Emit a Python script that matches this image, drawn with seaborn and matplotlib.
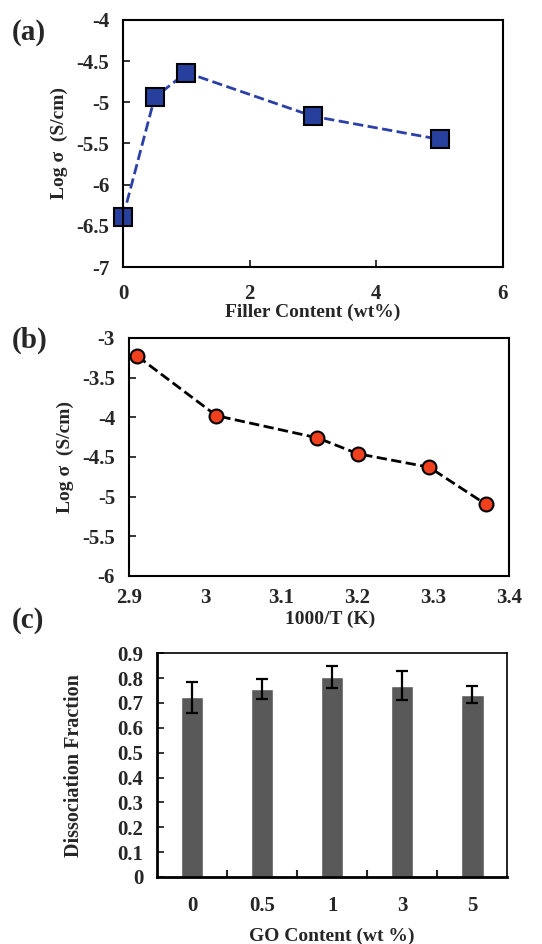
import numpy as np
import pandas as pd
import matplotlib
matplotlib.use('Agg')
import matplotlib.pyplot as plt
import seaborn as sns

# data
filler_wt = [0, 0.5, 1, 3, 5]
log_sigma_a = [-6.39, -4.94, -4.64, -5.17, -5.45]

inv_T = [2.911, 3.015, 3.148, 3.201, 3.295, 3.370]
log_sigma_b = [-3.23, -3.98, -4.26, -4.46, -4.63, -5.10]

go_labels = ['0', '0.5', '1', '3', '5']
dissoc_frac = [0.722, 0.755, 0.804, 0.770, 0.734]
dissoc_err = [0.062, 0.040, 0.045, 0.057, 0.033]

sns.set_style('ticks')
plt.rcParams['font.family'] = ['Liberation Serif', 'DejaVu Serif']
plt.rcParams['font.weight'] = 'bold'
plt.rcParams['axes.labelweight'] = 'bold'

fig = plt.figure(figsize=(5.42, 9.44), dpi=100)
ax_a = fig.add_axes([0.227, 0.717, 0.701, 0.262])
ax_b = fig.add_axes([0.238, 0.390, 0.701, 0.252])
ax_c = fig.add_axes([0.290, 0.071, 0.646, 0.237])

tick_fs = 15
label_fs = 14

def style_box(ax):
    for s in ax.spines.values():
        s.set_visible(True)
        s.set_linewidth(1.5)
        s.set_color('black')
    ax.tick_params(direction='in', width=1.3, length=5, labelsize=tick_fs)
    ax.tick_params(axis='y', pad=10)
    for t in ax.get_xticklabels() + ax.get_yticklabels():
        t.set_fontweight('bold')

# (a) conductivity vs filler content
df_a = pd.DataFrame({'x': filler_wt, 'y': log_sigma_a})
sns.lineplot(data=df_a, x='x', y='y', ax=ax_a, color='#2b3fa8', linestyle='--',
             linewidth=2, marker='s', markersize=13, markerfacecolor='#27409e',
             markeredgecolor='black', markeredgewidth=1.5, clip_on=False)
ax_a.set_xlim(0, 6)
ax_a.set_ylim(-7, -4)
ax_a.set_xticks([0, 2, 4, 6])
ax_a.set_yticks(np.arange(-7, -3.9, 0.5))
ax_a.set_yticklabels(['-7', '-6.5', '-6', '-5.5', '-5', '-4.5', '-4'])
ax_a.set_xlabel('Filler Content (wt%)', fontsize=label_fs, labelpad=0)
ax_a.set_ylabel('Log σ  (S/cm)', fontsize=label_fs, labelpad=6)
style_box(ax_a)
ax_a.tick_params(axis='x', pad=12)

# (b) Arrhenius plot
df_b = pd.DataFrame({'x': inv_T, 'y': log_sigma_b})
sns.lineplot(data=df_b, x='x', y='y', ax=ax_b, color='black', linestyle='--',
             linewidth=2, marker='o', markersize=10, markerfacecolor='#f0401e',
             markeredgecolor='black', markeredgewidth=1.5, clip_on=False)
ax_b.set_xlim(2.9, 3.4)
ax_b.set_ylim(-6, -3)
ax_b.set_xticks([2.9, 3.0, 3.1, 3.2, 3.3, 3.4])
ax_b.set_xticklabels(['2.9', '3', '3.1', '3.2', '3.3', '3.4'])
ax_b.set_yticks(np.arange(-6, -2.9, 0.5))
ax_b.set_yticklabels(['-6', '-5.5', '-5', '-4.5', '-4', '-3.5', '-3'])
ax_b.set_xlabel('1000/T (K)', fontsize=label_fs)
ax_b.xaxis.set_label_coords(0.53, -0.145)
ax_b.set_ylabel('Log σ  (S/cm)', fontsize=label_fs, labelpad=6)
style_box(ax_b)
ax_b.tick_params(axis='x', length=0, pad=9)

# (c) dissociation fraction bars
df_c = pd.DataFrame({'go': go_labels, 'frac': dissoc_frac})
sns.barplot(data=df_c, x='go', y='frac', ax=ax_c, color='#595959',
            saturation=1, width=0.32, errorbar=None)
ax_c.errorbar(np.arange(len(go_labels)), dissoc_frac, yerr=dissoc_err,
              fmt='none', ecolor='black', elinewidth=1.6, capsize=4, capthick=1.6)
ax_c.set_xlim(-0.5, 4.5)
ax_c.set_ylim(0, 0.9)
ax_c.set_yticks(np.arange(0, 0.91, 0.1))
ax_c.set_yticklabels(['0', '0.1', '0.2', '0.3', '0.4', '0.5', '0.6', '0.7', '0.8', '0.9'])
ax_c.set_xlabel('GO Content (wt %)', fontsize=label_fs, labelpad=8)
ax_c.set_ylabel('Dissociation Fraction', fontsize=14.5, labelpad=24)
style_box(ax_c)
ax_c.set_xticks(np.arange(0.5, 4.5, 1), minor=True)
ax_c.tick_params(axis='x', which='major', length=0, pad=14)
ax_c.tick_params(axis='x', which='minor', direction='in', length=5, width=1.5)
ax_c.tick_params(axis='y', pad=10)
ax_c.spines['top'].set_linewidth(1.2)
ax_c.spines['right'].set_linewidth(1.2)
ax_c.spines['bottom'].set_linewidth(2)
ax_c.spines['left'].set_linewidth(2)

# panel letters
for letter, ypos in [('(a)', 0.966), ('(b)', 0.639), ('(c)', 0.343)]:
    fig.text(0.022, ypos, letter, fontsize=21, fontweight='bold', ha='left', va='center')

fig.savefig('out.png', dpi=100)
